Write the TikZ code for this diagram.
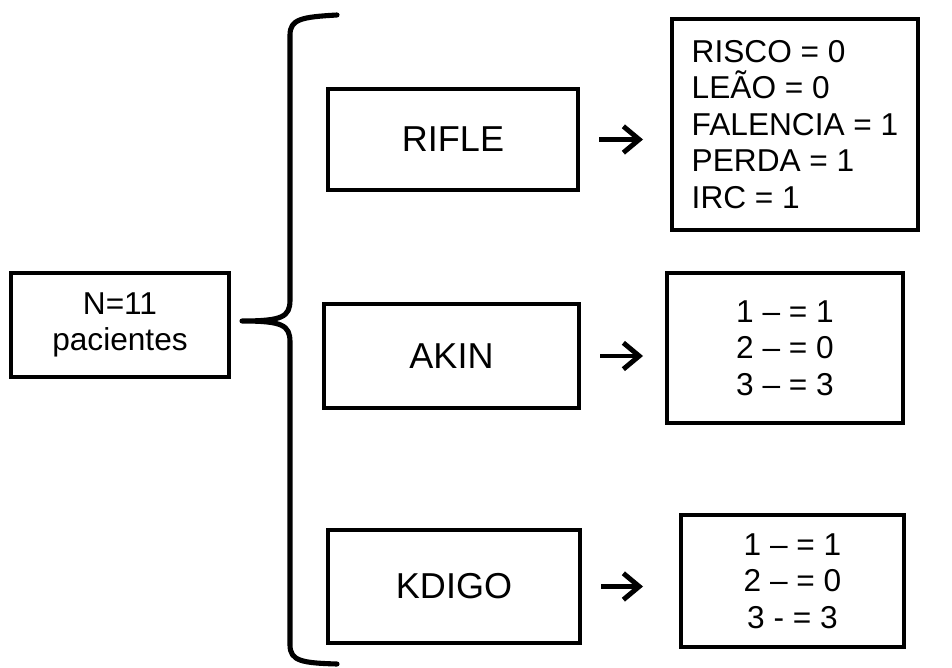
\documentclass[tikz,border=0pt]{standalone}
\usepackage{fontspec}
\setmainfont{Liberation Sans}
\usetikzlibrary{arrows.meta}

\begin{document}
\begin{tikzpicture}[x=0.02cm,y=-0.02cm,
    box/.style={draw, line width=2.3pt, inner sep=0pt},
    big/.style={font=\fontsize{20.5}{24}\selectfont},
    small/.style={font=\fontsize{18}{20.8}\selectfont},
    arr/.style={line width=2.8pt, shorten <=0.38cm,
      -{Straight Barb[length=9pt,width=15pt,line width=2.8pt]}},
    brace/.style={line width=2.9pt, line cap=round, line join=round}]
  \useasboundingbox (0,0) rectangle (952,668);

  %patients
  \node[box, small, align=center, minimum width=4.36cm, minimum height=2.08cm]
    (pac) at (120,325) {N=11\\pacientes};

  %criteria boxes
  \node[box, big, minimum width=5cm, minimum height=2.02cm] (rifle) at (453,139.5) {RIFLE};
  \node[box, big, minimum width=5.1cm, minimum height=2.08cm] (akin) at (451.5,356) {AKIN};
  \node[box, big, minimum width=5.04cm, minimum height=2.26cm] (kdigo) at (454,586.5) {KDIGO};

  %results
  \node[box, small, align=left, minimum width=4.92cm, minimum height=4.22cm]
    (res1) at (795,124.5) {RISCO = 0\\LEÃO = 0\\FALENCIA = 1\\PERDA = 1\\IRC = 1};
  \node[box, small, align=center, minimum width=4.72cm, minimum height=3cm]
    (res2) at (785,348) {1 – = 1\\2 – = 0\\3 – = 3};
  \node[box, small, align=center, minimum width=4.46cm, minimum height=2.64cm]
    (res3) at (792.5,581) {1 – = 1\\2 – = 0\\3 - = 3};

  %arrows
  \draw[arr, shorten >=0.54cm] (rifle.east) -- (rifle.east -| res1.west);
  \draw[arr, shorten >=0.44cm] (akin.east) -- (akin.east -| res2.west);
  \draw[arr, shorten >=0.72cm] (kdigo.east) -- (kdigo.east -| res3.west);

  %brace
  \coordinate (tip) at (242,321);
  \draw[brace] (337,15) .. controls (302,17) and (290,19) .. (290,35)
    -- (290,300) .. controls (290,317) and (282,321) .. (tip)
    .. controls (282,321) and (290,325) .. (290,342)
    -- (290,645) .. controls (290,661) and (302,663) .. (337,664);
\end{tikzpicture}
\end{document}
